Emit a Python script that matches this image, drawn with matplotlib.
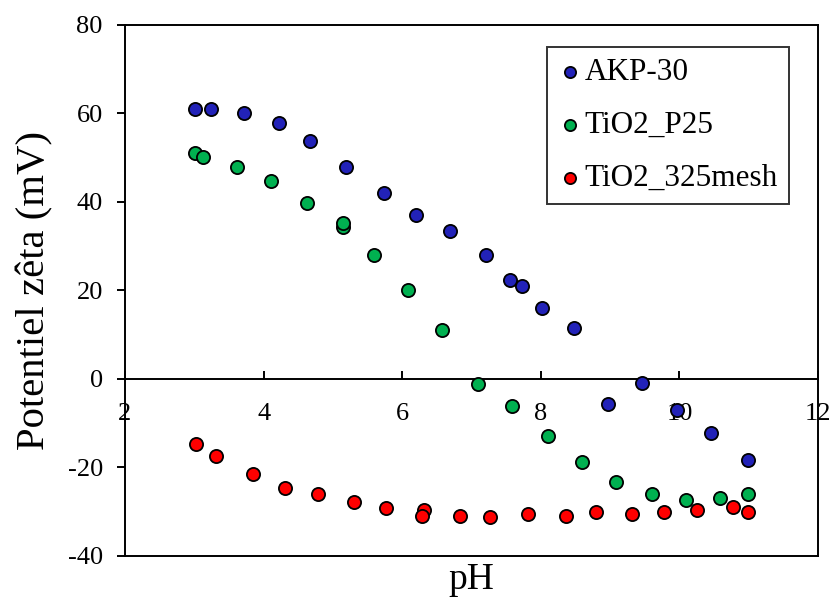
import matplotlib
matplotlib.use("Agg")
import matplotlib.pyplot as plt

plt.rcParams['font.family'] = ['Liberation Serif', 'DejaVu Serif']
plt.rcParams['axes.unicode_minus'] = False

# Data
akp_ph = [3.01, 3.24, 3.72, 4.22, 4.67, 5.19, 5.74, 6.20, 6.69, 7.21, 7.56, 7.73,
          8.02, 8.48, 8.97, 9.46, 9.97, 10.46, 10.99]
akp_zeta = [60.9, 60.9, 60.0, 57.8, 53.7, 47.9, 42.0, 37.1, 33.5, 28.1, 22.4, 21.0,
            16.0, 11.5, -5.7, -0.8, -7.0, -12.1, -18.3]

p25_ph = [3.01, 3.13, 3.61, 4.10, 4.62, 5.14, 5.14, 5.60, 6.09, 6.58, 7.09, 7.59,
          8.10, 8.59, 9.09, 9.60, 10.09, 10.59, 10.99]
p25_zeta = [51.0, 50.2, 47.9, 44.7, 39.8, 34.3, 35.3, 28.1, 20.0, 11.0, -1.2, -6.1,
            -12.9, -18.8, -23.3, -25.9, -27.3, -26.8, -25.9]

mesh_ph = [3.03, 3.32, 3.84, 4.31, 4.79, 5.30, 5.77, 6.31, 6.28, 6.84, 7.27, 7.82,
           8.36, 8.80, 9.32, 9.78, 10.26, 10.78, 10.99]
mesh_zeta = [-14.7, -17.4, -21.5, -24.6, -25.9, -27.8, -29.2, -29.5, -31.0, -31.0, -31.3,
             -30.4, -31.0, -30.0, -30.4, -30.0, -29.5, -29.0, -30.0]

series_names = ["AKP-30", "TiO2_P25", "TiO2_325mesh"]
colors = ["#2222B8", "#00B050", "#FF0000"]

x_ticks = [2, 4, 6, 8, 10, 12]
y_ticks = [-40, -20, 0, 20, 40, 60, 80]

fig = plt.figure(figsize=(8.35, 5.99), dpi=100)
ax = fig.add_axes([0.1497, 0.0718, 0.8299, 0.8865])

for xs, ys, c, name in zip([akp_ph, p25_ph, mesh_ph], [akp_zeta, p25_zeta, mesh_zeta],
                           colors, series_names):
    ax.scatter(xs, ys, s=90, c=c, edgecolors='black', linewidths=1.3, label=name, zorder=3)

ax.set_xlim(2, 12)
ax.set_ylim(-40, 80)
ax.set_xticks(x_ticks)
ax.set_yticks(y_ticks)

lw = 1.4
ax.spines['bottom'].set_position(('data', 0))
for sp in ax.spines.values():
    sp.set_linewidth(lw)
# bottom edge of the frame
ax.plot([0, 1], [0, 0], transform=ax.transAxes, color='black', lw=lw, clip_on=False,
        solid_capstyle='projecting')

ax.tick_params(axis='x', direction='in', length=6, width=lw, pad=17, labelsize=19)
ax.tick_params(axis='y', direction='out', length=6, width=lw, pad=10, labelsize=19)

ax.set_ylabel("Potentiel zêta (mV)", fontsize=29.3, labelpad=10)
ax.set_xlabel("pH", fontsize=27)
ax.xaxis.set_label_coords(0.5, -0.012)

leg = ax.legend(loc='upper right', bbox_to_anchor=(0.958, 0.9586), borderaxespad=0,
                fontsize=22.5, frameon=True, fancybox=False, edgecolor='black',
                markerscale=0.85, handletextpad=0.1, labelspacing=0.77,
                borderpad=0.35, handlelength=0.75)
leg.get_frame().set_linewidth(lw)

fig.savefig("out.png", dpi=100)
